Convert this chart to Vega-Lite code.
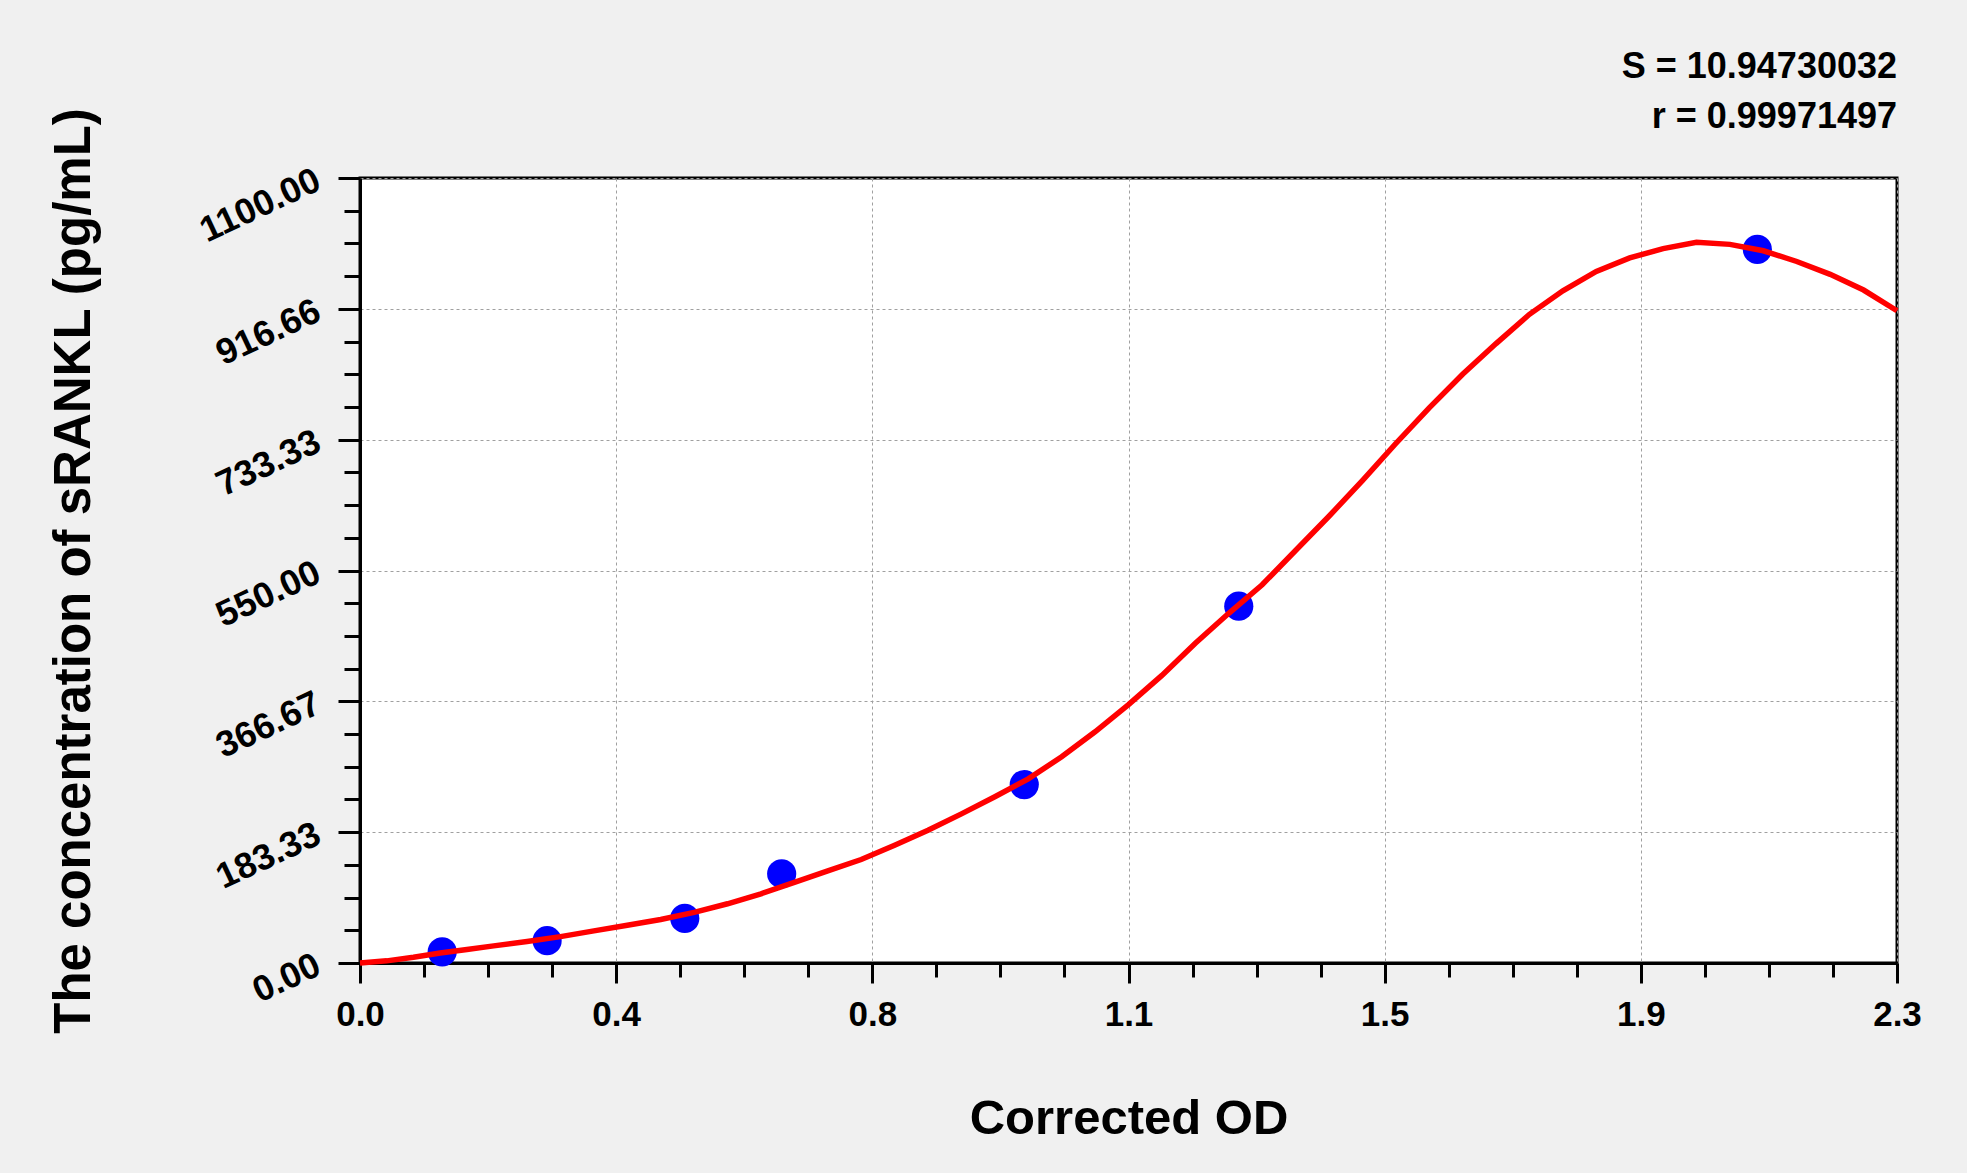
{
  "$schema": "https://vega.github.io/schema/vega-lite/v6.json",
  "width": 1537,
  "height": 785,
  "autosize": {"type": "none"},
  "padding": {"left": 360, "top": 178, "right": 70, "bottom": 210},
  "background": "#f0f0f0",
  "title": {
    "text": "S = 10.94730032",
    "subtitle": "r = 0.99971497",
    "anchor": "end",
    "orient": "top",
    "frame": "group",
    "font": "Liberation Sans",
    "fontSize": 36,
    "fontWeight": "bold",
    "color": "black",
    "subtitleFont": "Liberation Sans",
    "subtitleFontSize": 36,
    "subtitleFontWeight": "bold",
    "subtitleColor": "black",
    "subtitlePadding": 14,
    "offset": -29
  },
  "config": {
    "font": "Liberation Sans",
    "view": {"fill": "white", "stroke": "black", "strokeWidth": 3}
  },
  "datasets": {
    "standards": [
      {"od": 0.123, "conc": 15.63},
      {"od": 0.280, "conc": 31.25},
      {"od": 0.486, "conc": 62.5},
      {"od": 0.631, "conc": 125},
      {"od": 0.994, "conc": 250},
      {"od": 1.315, "conc": 500},
      {"od": 2.091, "conc": 1000}
    ],
    "fit": [
      {"od": 0, "conc": 0},
      {"od": 0.04, "conc": 3},
      {"od": 0.08, "conc": 8},
      {"od": 0.12, "conc": 14},
      {"od": 0.16, "conc": 19},
      {"od": 0.2, "conc": 24},
      {"od": 0.25, "conc": 30},
      {"od": 0.3, "conc": 37},
      {"od": 0.35, "conc": 45},
      {"od": 0.4, "conc": 53},
      {"od": 0.45, "conc": 61},
      {"od": 0.5, "conc": 71},
      {"od": 0.55, "conc": 83},
      {"od": 0.6, "conc": 97},
      {"od": 0.65, "conc": 113},
      {"od": 0.7, "conc": 129},
      {"od": 0.75, "conc": 145},
      {"od": 0.8, "conc": 165},
      {"od": 0.85, "conc": 186},
      {"od": 0.9, "conc": 209},
      {"od": 0.95, "conc": 233},
      {"od": 1.0, "conc": 258},
      {"od": 1.05, "conc": 289},
      {"od": 1.1, "conc": 324},
      {"od": 1.15, "conc": 362},
      {"od": 1.2, "conc": 403},
      {"od": 1.25, "conc": 448},
      {"od": 1.3, "conc": 490},
      {"od": 1.35, "conc": 530},
      {"od": 1.4, "conc": 578},
      {"od": 1.45, "conc": 626},
      {"od": 1.5, "conc": 676},
      {"od": 1.55, "conc": 728},
      {"od": 1.6, "conc": 778},
      {"od": 1.65, "conc": 825},
      {"od": 1.7, "conc": 868},
      {"od": 1.75, "conc": 909},
      {"od": 1.8, "conc": 942},
      {"od": 1.85, "conc": 969},
      {"od": 1.9, "conc": 988},
      {"od": 1.95, "conc": 1001},
      {"od": 2.0, "conc": 1010},
      {"od": 2.05, "conc": 1007},
      {"od": 2.1, "conc": 998},
      {"od": 2.15, "conc": 983},
      {"od": 2.2, "conc": 965},
      {"od": 2.25, "conc": 943},
      {"od": 2.3, "conc": 914}
    ]
  },
  "layer": [
    {
      "data": {"name": "standards"},
      "mark": {"type": "circle", "size": 850, "color": "#0000ff", "opacity": 1},
      "encoding": {
        "x": {
          "field": "od",
          "type": "quantitative",
          "scale": {"domain": [0, 2.3], "nice": false, "zero": false},
          "axis": {
            "values": [0, 0.383333, 0.766667, 1.15, 1.533333, 1.916667, 2.3],
            "format": ".1f",
            "labelFont": "Liberation Sans",
            "labelFontSize": 35,
            "labelFontWeight": "bold",
            "labelColor": "black",
            "labelPadding": 14,
            "labelFlush": false,
            "labelOverlap": false,
            "tickSize": 20,
            "tickWidth": 3,
            "tickColor": "black",
            "domainColor": "black",
            "domainWidth": 3,
            "grid": true,
            "gridColor": "#a0a0a0",
            "gridDash": [3, 3],
            "gridWidth": 1,
            "title": "Corrected OD",
            "titleFont": "Liberation Sans",
            "titleFontSize": 49,
            "titleFontWeight": "bold",
            "titleColor": "black",
            "titlePadding": 62
          }
        },
        "y": {
          "field": "conc",
          "type": "quantitative",
          "scale": {"domain": [0, 1100], "nice": false, "zero": false},
          "axis": {
            "values": [0, 183.333333, 366.666667, 550, 733.333333, 916.66, 1100],
            "format": ".2f",
            "labelFont": "Liberation Sans",
            "labelFontSize": 36,
            "labelFontWeight": "bold",
            "labelColor": "black",
            "labelAngle": -25,
            "labelAlign": "right",
            "labelBaseline": "middle",
            "labelPadding": 20,
            "labelFlush": false,
            "labelOverlap": false,
            "tickSize": 22,
            "tickWidth": 3,
            "tickColor": "black",
            "domainColor": "black",
            "domainWidth": 3,
            "grid": true,
            "gridColor": "#a0a0a0",
            "gridDash": [3, 3],
            "gridWidth": 1,
            "title": "The concentration of sRANKL (pg/mL)",
            "titleFont": "Liberation Sans",
            "titleFontSize": 51,
            "titleFontWeight": "bold",
            "titleColor": "black",
            "titlePadding": 94
          }
        }
      }
    },
    {
      "data": {"name": "fit"},
      "mark": {"type": "line", "color": "#ff0000", "strokeWidth": 5.5},
      "encoding": {
        "x": {
          "field": "od",
          "type": "quantitative",
          "axis": {
            "orient": "bottom",
            "values": [0.095833, 0.191667, 0.2875, 0.479167, 0.575, 0.670833, 0.8625, 0.958333, 1.054167, 1.245833, 1.341667, 1.4375, 1.629167, 1.725, 1.820833, 2.0125, 2.108333, 2.204167],
            "labels": false,
            "domain": false,
            "grid": false,
            "tickSize": 14,
            "tickWidth": 3,
            "tickColor": "black",
            "title": null
          }
        },
        "y": {
          "field": "conc",
          "type": "quantitative",
          "axis": {
            "orient": "left",
            "values": [45.833, 91.667, 137.5, 229.167, 275, 320.833, 412.5, 458.333, 504.167, 595.833, 641.667, 687.5, 779.167, 825, 870.833, 962.5, 1008.333, 1054.167],
            "labels": false,
            "domain": false,
            "grid": false,
            "tickSize": 16,
            "tickWidth": 3,
            "tickColor": "black",
            "title": null
          }
        }
      }
    }
  ],
  "resolve": {"axis": {"x": "independent", "y": "independent"}}
}
